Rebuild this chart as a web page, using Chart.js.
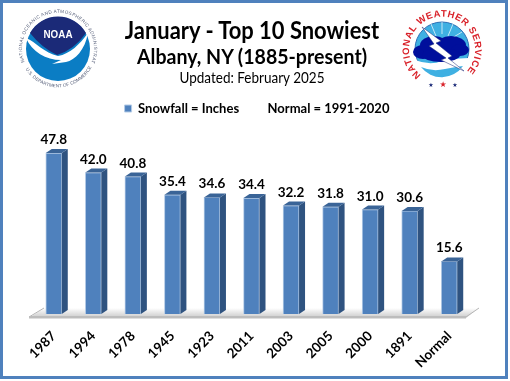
<!DOCTYPE html>
<html lang="en">
<head>
<meta charset="UTF-8">
<title>January - Top 10 Snowiest</title>
<script src="https://cdn.jsdelivr.net/npm/chart.js"></script>
<style>
    html, body { margin: 0; background: #fff; }
    #frame { position: relative; width: 508px; height: 379px; box-sizing: border-box; border: 3px solid #4f81bd; overflow: hidden; }
    #chart { position: absolute; left: -3px; top: -3px; }
    .head { position: absolute; left: -5px; width: 508px; text-align: center; font-family: Lato, sans-serif; color: #000; white-space: nowrap; }
    #logos { position: absolute; left: -3px; top: -3px; }
</style>
</head>
<body>
<div id="frame">
    <canvas id="chart" width="510" height="381"></canvas>
    <div class="head" style="top:11px;font-size:25.5px;font-weight:700;line-height:30px;transform:scaleX(.86)">January - Top 10 Snowiest</div>
    <div class="head" style="top:40px;font-size:21.5px;font-weight:700;line-height:26px;transform:scaleX(.91)">Albany, NY (1885-present)</div>
    <div class="head" style="top:65px;font-size:15px;line-height:18px;transform:scaleX(.9)">Updated: February 2025</div>
    <svg id="logos" width="510" height="381" viewBox="0 0 510 381">
        <defs>
            <path id="noaaTop" d="M24.5,62 A36,36 0 1 1 91.5,62"/>
            <path id="noaaBottom" d="M21,58 A38,38 0 0 0 95,58"/>
            <path id="nwsArc" d="M421,75 A33,33 0 1 1 463,75"/>
        </defs>
        <text font-family="Liberation Sans" font-size="4.6" fill="#59627c"><textPath href="#noaaTop" textLength="150" lengthAdjust="spacing">NATIONAL OCEANIC AND ATMOSPHERIC ADMINISTRATION</textPath></text>
        <text font-family="Liberation Sans" font-size="4.6" fill="#59627c"><textPath href="#noaaBottom" startOffset="12" textLength="80" lengthAdjust="spacing">U.S. DEPARTMENT OF COMMERCE</textPath></text>
        <circle cx="58" cy="49" r="32" fill="#0b7dc4"/>
        <path d="M30,33 A32,32 0 0 1 86,33 Q74,50 57,55 Q42,48 30,33Z" fill="#1b2a78"/>
        <path d="M26,38 C36,42 44,53 58,56 C70,54 80,44 88,33 C85,50 75,60 66,62 L52,64 L61,60 C46,60 32,52 26,38Z" fill="#fff"/>
        <text x="58" y="38" text-anchor="middle" font-family="Liberation Sans" font-weight="700" font-size="10.5" fill="#fff" textLength="29" lengthAdjust="spacingAndGlyphs">NOAA</text>

        <circle cx="442" cy="49" r="27" fill="#3fb0e2" stroke="#2c6fb5" stroke-width="1"/>
        <path d="M442,22 L442,34 M431,24 L436,36 M453,24 L448,36 M462,32 L452,38" stroke="#fff" stroke-width="0.7" fill="none"/>
        <path d="M415,60 Q430,66 442,61 Q455,58 469,58 A27,27 0 0 1 415,60Z" fill="#fff"/>
        <path d="M421,67 Q432,72 445,69 Q455,67 463,66 A26,26 0 0 1 421,67Z" fill="#3fb0e2"/>
        <g fill="#000f9c">
            <ellipse cx="423" cy="52" rx="10" ry="7"/>
            <ellipse cx="434" cy="45" rx="14" ry="9"/>
            <ellipse cx="451" cy="45" rx="15" ry="9"/>
            <ellipse cx="460" cy="50" rx="9" ry="6"/>
            <ellipse cx="441" cy="55" rx="19" ry="7"/>
        </g>
        <path d="M422,27 L441,41 L436,43 L452,56 L448,58 L464,71 L441,60 L446,58 L429,46 L434,44Z" fill="#fff" stroke="#1b2a78" stroke-width="0.5"/>
        <text font-family="Liberation Sans" font-weight="700" font-size="9.5" fill="#d9222a"><textPath href="#nwsArc" textLength="156" lengthAdjust="spacing">NATIONAL WEATHER SERVICE</textPath></text>
        <text x="443" y="87" text-anchor="middle" font-size="6" fill="#1b2a78" font-family="DejaVu Sans" xml:space="preserve">★   <tspan fill="#d9222a" font-size="8">★</tspan>   ★</text>
    </svg>
</div>

<script>
    const categories = ['1987', '1994', '1978', '1945', '1923', '2011', '2003', '2005', '2000', '1891', 'Normal'];
    const snowfall = [47.8, 42.0, 40.8, 35.4, 34.6, 34.4, 32.2, 31.8, 31.0, 30.6, 15.6];
    const legendText = 'Snowfall = Inches         Normal = 1991-2020';

    const depthX = 6;
    const depthY = 4;

    // the floor the bars stand on
    const floorPlugin = {
        id: 'floor',
        afterLayout(chart) {
            // legend sits a little right of the plot centre
            chart.legend.left += 11;
        },
        beforeDatasetsDraw(chart) {
            const ctx = chart.ctx;
            const base = chart.scales.y.getPixelForValue(0);
            const left = chart.chartArea.left;
            const right = chart.chartArea.right;
            const grad = ctx.createLinearGradient(0, base - 6, 0, base + 2);
            grad.addColorStop(0, '#ffffff');
            grad.addColorStop(1, '#d4d4d4');
            ctx.save();
            ctx.fillStyle = grad;
            ctx.strokeStyle = '#b5b5b5';
            ctx.beginPath();
            ctx.moveTo(left - 5, base + 4);
            ctx.lineTo(left + 10, base - 6);
            ctx.lineTo(right + 10, base - 6);
            ctx.lineTo(right - 3, base + 4);
            ctx.closePath();
            ctx.fill();
            ctx.beginPath();
            ctx.moveTo(left - 5, base + 3);
            ctx.lineTo(left + 10, base - 6);
            ctx.moveTo(right + 10, base - 6);
            ctx.lineTo(right - 3, base + 3);
            ctx.stroke();
            ctx.fillStyle = '#bdbdbd';
            ctx.fillRect(left - 5, base + 2, right - left + 2, 2.5);
            ctx.restore();
        }
    };

    // fake 3D sides and the value above each bar
    const sidesPlugin = {
        id: 'sides',
        afterDatasetsDraw(chart) {
            const ctx = chart.ctx;
            const meta = chart.getDatasetMeta(0);
            ctx.save();
            meta.data.forEach((bar, i) => {
                const r = bar.x + bar.width / 2;
                const l = bar.x - bar.width / 2;
                ctx.fillStyle = '#2f5380';
                ctx.beginPath();
                ctx.moveTo(r, bar.y);
                ctx.lineTo(r + depthX, bar.y - depthY);
                ctx.lineTo(r + depthX, bar.base - depthY);
                ctx.lineTo(r, bar.base);
                ctx.closePath();
                ctx.fill();
                ctx.fillStyle = '#3a6497';
                ctx.beginPath();
                ctx.moveTo(l, bar.y);
                ctx.lineTo(l + depthX, bar.y - depthY);
                ctx.lineTo(r + depthX, bar.y - depthY);
                ctx.lineTo(r, bar.y);
                ctx.closePath();
                ctx.fill();
                ctx.fillStyle = '#000';
                ctx.font = '700 13.5px Lato, sans-serif';
                ctx.textAlign = 'center';
                ctx.textBaseline = 'alphabetic';
                ctx.fillText(snowfall[i].toFixed(1), bar.x, bar.y - 9);
            });
            ctx.restore();
        }
    };

    new Chart(document.getElementById('chart').getContext('2d'), {
        type: 'bar',
        data: {
            labels: categories,
            datasets: [{
                label: legendText,
                data: snowfall,
                backgroundColor: '#4f81bd',
                borderColor: '#b4cbe6',
                borderWidth: 1,
                barThickness: 16
            }]
        },
        options: {
            responsive: false,
            animation: false,
            layout: { padding: { top: 96, left: 34, right: 41, bottom: 0 } },
            plugins: {
                legend: {
                    display: true,
                    position: 'top',
                    labels: {
                        boxWidth: 7,
                        boxHeight: 7,
                        padding: 6,
                        color: '#000',
                        font: { family: 'Lato, sans-serif', size: 13, weight: '700' }
                    }
                },
                tooltip: { enabled: false }
            },
            scales: {
                x: {
                    grid: { display: false },
                    border: { display: false },
                    afterFit(scale) { scale.height = 67; },
                    ticks: {
                        autoSkip: false,
                        maxRotation: 45,
                        minRotation: 45,
                        padding: 6,
                        color: '#000',
                        font: { family: 'Lato, sans-serif', size: 13.5, weight: '700' }
                    }
                },
                y: {
                    display: false,
                    min: 0,
                    max: 56.1
                }
            }
        },
        plugins: [floorPlugin, sidesPlugin]
    });
</script>
</body>
</html>
